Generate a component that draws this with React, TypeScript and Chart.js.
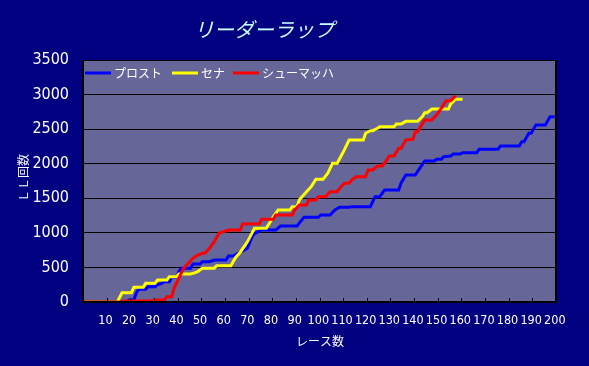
import React, { useEffect, useRef } from "react";
import { Chart, registerables } from "chart.js";

Chart.register(...registerables);

const chartTitle = "リーダーラップ";
const xAxisTitle = "レース数";
const yAxisTitle = "ＬＬ回数";
const seriesNames = ["プロスト", "セナ", "シューマッハ"];
const seriesColors = ["#0000FF", "#FFFF00", "#FF0000"];

const prostRaces = [1, 19, 20, 22, 23, 24, 27, 28, 31, 32, 33, 35, 37, 38, 40, 41, 42, 46, 47, 50, 51, 54, 56, 61, 62, 64, 66, 68, 70, 72, 73, 76, 82, 84, 91, 93, 94, 100, 101, 105, 107, 109, 113, 114, 122, 124, 126, 128, 134, 135, 137, 141, 143, 145, 149, 150, 152, 153, 156, 157, 160, 161, 167, 168, 176, 177, 185, 186, 187, 189, 190, 192, 196, 197, 198, 200];
const prostLaps = [0, 0, 29, 29, 125, 183, 183, 222, 222, 256, 256, 294, 294, 357, 357, 438, 487, 487, 550, 550, 583, 583, 607, 607, 665, 665, 704, 740, 777, 945, 990, 1041, 1041, 1099, 1099, 1186, 1225, 1225, 1258, 1258, 1331, 1370, 1370, 1378, 1378, 1523, 1523, 1620, 1620, 1720, 1837, 1837, 1940, 2039, 2039, 2064, 2064, 2102, 2110, 2141, 2141, 2159, 2159, 2208, 2208, 2256, 2256, 2319, 2319, 2440, 2440, 2560, 2560, 2620, 2680, 2680];

const sennaRaces = [1, 15, 17, 21, 22, 26, 27, 31, 32, 36, 37, 40, 41, 46, 48, 49, 51, 56, 57, 63, 65, 67, 70, 72, 73, 78, 81, 83, 88, 89, 91, 92, 95, 97, 99, 102, 104, 106, 108, 111, 113, 119, 120, 122, 123, 125, 126, 132, 133, 135, 137, 142, 144, 145, 146, 148, 155, 156, 158, 161];
const sennaLaps = [0, 0, 134, 134, 213, 213, 270, 270, 318, 318, 366, 366, 405, 405, 424, 440, 487, 487, 525, 525, 640, 720, 870, 1000, 1066, 1066, 1234, 1331, 1331, 1378, 1378, 1480, 1595, 1668, 1775, 1775, 1861, 2006, 2006, 2200, 2343, 2343, 2440, 2478, 2478, 2512, 2536, 2536, 2574, 2574, 2613, 2613, 2681, 2738, 2738, 2791, 2791, 2864, 2932, 2932];

const schumacherRaces = [1, 17, 18, 29, 31, 35, 36, 38, 39, 41, 43, 45, 47, 49, 51, 52, 54, 56, 58, 60, 62, 67, 68, 75, 76, 81, 82, 89, 90, 92, 95, 96, 99, 100, 103, 105, 108, 109, 111, 113, 114, 116, 120, 121, 123, 125, 127, 129, 130, 132, 134, 135, 137, 140, 141, 142, 143, 145, 148, 150, 152, 154, 156, 158];
const schumacherLaps = [0, 0, 15, 15, 30, 30, 77, 77, 198, 342, 487, 559, 632, 680, 704, 704, 777, 872, 993, 1017, 1041, 1041, 1128, 1128, 1196, 1196, 1258, 1258, 1331, 1403, 1403, 1475, 1475, 1523, 1523, 1595, 1595, 1644, 1717, 1717, 1760, 1812, 1812, 1909, 1909, 1967, 1967, 2054, 2112, 2112, 2223, 2223, 2343, 2353, 2463, 2463, 2520, 2632, 2632, 2705, 2801, 2911, 2911, 2985];

const xTickValues = [10, 20, 30, 40, 50, 60, 70, 80, 90, 100, 110, 120, 130, 140, 150, 160, 170, 180, 190, 200];
const yMin = 0;
const yMax = 3500;
const yStep = 500;
const xMin = 0.5;
const xMax = 200.5;

const toPoints = (xs: number[], ys: number[]) => xs.map((x, i) => ({ x, y: ys[i] }));

const narrow = "'Liberation Sans Narrow', 'DejaVu Sans Condensed', 'Arial Narrow', sans-serif";
const jp = "'Noto Sans CJK JP', sans-serif";

const decorPlugin = {
  id: "decor",
  beforeDraw(chart: any) {
    const { ctx, chartArea: a, width, height } = chart;
    ctx.save();
    ctx.fillStyle = "#000080";
    ctx.fillRect(0, 0, width, height);
    ctx.fillStyle = "#666699";
    ctx.fillRect(a.left, a.top, a.right - a.left, a.bottom - a.top);
    ctx.restore();
  },
  afterDraw(chart: any) {
    const { ctx, chartArea: a } = chart;
    const xs = chart.scales.x;
    ctx.save();
    // border
    ctx.strokeStyle = "#000000";
    ctx.lineWidth = 1;
    ctx.beginPath();
    ctx.moveTo(a.left, a.top + 0.5);
    ctx.lineTo(a.right, a.top + 0.5);
    ctx.stroke();
    ctx.lineWidth = 2;
    ctx.beginPath();
    ctx.moveTo(a.left, a.top);
    ctx.lineTo(a.left, a.bottom);
    ctx.lineTo(a.right, a.bottom);
    ctx.lineTo(a.right, a.top);
    ctx.stroke();
    // inward tick marks at category boundaries
    ctx.lineWidth = 1;
    xTickValues.forEach((v) => {
      const px = Math.round(xs.getPixelForValue(v + 0.5)) + 0.5;
      ctx.beginPath();
      ctx.moveTo(px, a.bottom);
      ctx.lineTo(px, a.bottom - 4);
      ctx.stroke();
    });
    // title
    ctx.fillStyle = "#CCFFFF";
    ctx.font = "italic 20px " + jp;
    ctx.textAlign = "center";
    ctx.textBaseline = "middle";
    ctx.fillText(chartTitle, 264, 29);
    // axis titles
    ctx.fillStyle = "#FFFFFF";
    ctx.font = "12px " + jp;
    ctx.fillText(xAxisTitle, 320, 341);
    ctx.save();
    ctx.translate(23, 178);
    ctx.rotate(-Math.PI / 2);
    ctx.fillText(yAxisTitle, 0, 0);
    ctx.restore();
    // legend
    const legendX = [85, 172, 233];
    const legendY = 73;
    ctx.textAlign = "left";
    seriesNames.forEach((name, i) => {
      ctx.strokeStyle = seriesColors[i];
      ctx.lineWidth = 3;
      ctx.beginPath();
      ctx.moveTo(legendX[i], legendY);
      ctx.lineTo(legendX[i] + 26, legendY);
      ctx.stroke();
      ctx.fillStyle = "#FFFFFF";
      ctx.font = "12px " + jp;
      ctx.fillText(name, legendX[i] + 29, legendY);
    });
    ctx.restore();
  },
};

export default function App() {
  const ref = useRef<HTMLCanvasElement | null>(null);
  useEffect(() => {
    if (!ref.current) return;
    const chart = new Chart(ref.current, {
      type: "line",
      data: {
        datasets: [
          {
            label: seriesNames[0],
            data: toPoints(prostRaces, prostLaps),
            borderColor: seriesColors[0],
            backgroundColor: seriesColors[0],
            borderWidth: 3,
            pointRadius: 0,
            tension: 0,
            order: 2,
          },
          {
            label: seriesNames[1],
            data: toPoints(sennaRaces, sennaLaps),
            borderColor: seriesColors[1],
            backgroundColor: seriesColors[1],
            borderWidth: 3,
            pointRadius: 0,
            tension: 0,
            order: 1,
          },
          {
            label: seriesNames[2],
            data: toPoints(schumacherRaces, schumacherLaps),
            borderColor: seriesColors[2],
            backgroundColor: seriesColors[2],
            borderWidth: 3,
            pointRadius: 0,
            tension: 0,
            order: 0,
          },
        ],
      },
      options: {
        animation: false,
        responsive: false,
        maintainAspectRatio: false,
        layout: { padding: { left: 0, top: 60, right: 33, bottom: 0 } },
        plugins: {
          legend: { display: false },
          title: { display: false },
          tooltip: { enabled: false },
        },
        scales: {
          x: {
            type: "linear",
            min: xMin,
            max: xMax,
            grid: { display: false, drawTicks: false },
            border: { display: false },
            afterBuildTicks: (scale: any) => {
              scale.ticks = xTickValues.map((v) => ({ value: v }));
            },
            afterFit: (scale: any) => {
              scale.height = 64;
            },
            ticks: {
              color: "#FFFFFF",
              font: { family: narrow, size: 12.5 },
              padding: 11,
              maxRotation: 0,
              autoSkip: false,
              callback: (v: any) => String(v),
            },
          },
          y: {
            min: yMin,
            max: yMax,
            grid: { color: "#000000", lineWidth: 1, drawTicks: false },
            border: { display: false },
            afterFit: (scale: any) => {
              scale.width = 83;
            },
            ticks: {
              stepSize: yStep,
              color: "#FFFFFF",
              font: { family: narrow, size: 16 },
              padding: 14,
              callback: (v: any) => String(v),
            },
          },
        },
      },
      plugins: [decorPlugin],
    });
    return () => chart.destroy();
  }, []);
  return (
    <div style={{ position: "fixed", left: 0, top: 0, width: 589, height: 366, background: "#000080" }}>
      <canvas ref={ref} width={589} height={366} style={{ display: "block" }} />
    </div>
  );
}
